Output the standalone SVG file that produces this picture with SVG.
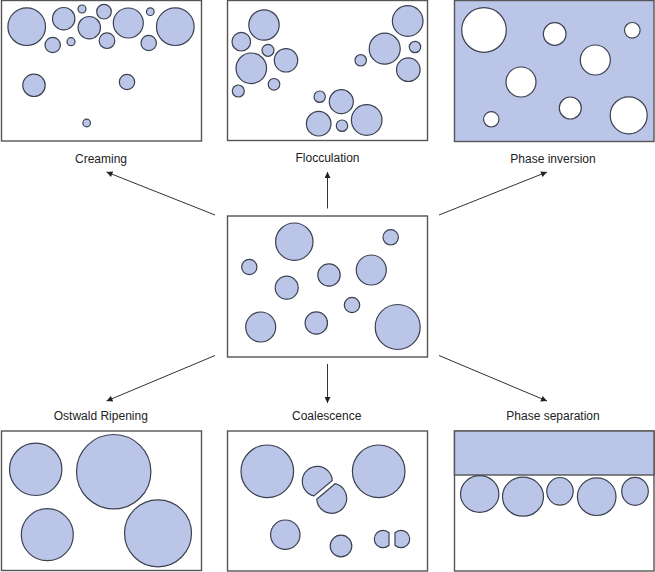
<svg xmlns="http://www.w3.org/2000/svg" width="655" height="572" viewBox="0 0 655 572">
<style>
  .frame { fill: #ffffff; stroke: #555555; stroke-width: 1.4; }
  .frame-blue { fill: #bac5e8; stroke: #555555; stroke-width: 1.4; }
  .drop { fill: #bac5e8; stroke: #3c4150; stroke-width: 1.2; }
  .drop-w { fill: #ffffff; stroke: #3c4150; stroke-width: 1.2; }
  .label { font-family: "Liberation Sans", Arial, sans-serif; font-size: 12px; fill: #222222; text-anchor: middle; }
  .arrow { stroke: #333333; stroke-width: 1; fill: none; marker-end: url(#ah); }
</style>
<defs>
  <marker id="ah" viewBox="0 0 10 10" refX="10" refY="5" markerWidth="9" markerHeight="6" markerUnits="userSpaceOnUse" orient="auto">
    <path d="M0,0 L10,5 L0,10 z" fill="#222222"/>
  </marker>
</defs>
<rect width="655" height="572" fill="#ffffff"/>

<g id="creaming">
  <rect class="frame" x="1.5" y="0.5" width="200" height="140.5"/>
  <circle class="drop" cx="26.7" cy="26.7" r="18.8"/>
  <circle class="drop" cx="63.7" cy="18.7" r="11.2"/>
  <circle class="drop" cx="82" cy="9" r="4"/>
  <circle class="drop" cx="104" cy="11.7" r="7.3"/>
  <circle class="drop" cx="89.3" cy="27.7" r="11.2"/>
  <circle class="drop" cx="128.3" cy="23" r="15"/>
  <circle class="drop" cx="150.3" cy="11.7" r="3.8"/>
  <circle class="drop" cx="175.3" cy="26.7" r="18.8"/>
  <circle class="drop" cx="52.7" cy="45" r="7.7"/>
  <circle class="drop" cx="71" cy="41.7" r="4"/>
  <circle class="drop" cx="107" cy="40.7" r="7.8"/>
  <circle class="drop" cx="148.7" cy="43" r="7.7"/>
  <circle class="drop" cx="34" cy="85.3" r="11.2"/>
  <circle class="drop" cx="127" cy="82" r="7.7"/>
  <circle class="drop" cx="86.7" cy="123" r="3.8"/>
  <text class="label" x="101" y="163">Creaming</text>
</g>

<g id="flocculation">
  <rect class="frame" x="227.5" y="0.5" width="200" height="140"/>
  <circle class="drop" cx="264" cy="25" r="15.2"/>
  <circle class="drop" cx="241.3" cy="41.7" r="9.3"/>
  <circle class="drop" cx="268" cy="50.3" r="6"/>
  <circle class="drop" cx="251.3" cy="68.3" r="15.3"/>
  <circle class="drop" cx="286" cy="60.3" r="11.7"/>
  <circle class="drop" cx="274" cy="84.3" r="5.8"/>
  <circle class="drop" cx="238.3" cy="91" r="6"/>
  <circle class="drop" cx="407.7" cy="21" r="15.3"/>
  <circle class="drop" cx="384.7" cy="48.7" r="15.5"/>
  <circle class="drop" cx="415" cy="47" r="5.7"/>
  <circle class="drop" cx="360.7" cy="60.3" r="5.7"/>
  <circle class="drop" cx="408.3" cy="69.7" r="11.8"/>
  <circle class="drop" cx="319.7" cy="96.7" r="5.7"/>
  <circle class="drop" cx="341.3" cy="101.7" r="12"/>
  <circle class="drop" cx="318.7" cy="123.7" r="12.3"/>
  <circle class="drop" cx="342" cy="125.7" r="5.7"/>
  <circle class="drop" cx="366.7" cy="120" r="15.3"/>
  <text class="label" x="327.5" y="162">Flocculation</text>
</g>

<g id="phase-inversion">
  <rect class="frame-blue" x="454.5" y="0.5" width="199.5" height="141"/>
  <circle class="drop-w" cx="484" cy="30" r="22.3"/>
  <circle class="drop-w" cx="554.7" cy="34" r="11.3"/>
  <circle class="drop-w" cx="632.3" cy="30.3" r="7.8"/>
  <circle class="drop-w" cx="595.3" cy="60" r="15"/>
  <circle class="drop-w" cx="521" cy="82" r="15"/>
  <circle class="drop-w" cx="570.3" cy="108" r="11"/>
  <circle class="drop-w" cx="491.3" cy="119.3" r="7.7"/>
  <circle class="drop-w" cx="628.7" cy="115.3" r="18.5"/>
  <text class="label" x="553" y="163">Phase inversion</text>
</g>

<g id="emulsion">
  <rect class="frame" x="227.5" y="216" width="200" height="141"/>
  <circle class="drop" cx="294.3" cy="241.7" r="18.7"/>
  <circle class="drop" cx="390.7" cy="237.3" r="7.7"/>
  <circle class="drop" cx="249.3" cy="267" r="7.7"/>
  <circle class="drop" cx="329" cy="275" r="11.2"/>
  <circle class="drop" cx="371.3" cy="270" r="15"/>
  <circle class="drop" cx="286.7" cy="287.7" r="11.5"/>
  <circle class="drop" cx="352" cy="305" r="7.7"/>
  <circle class="drop" cx="260.7" cy="327" r="15"/>
  <circle class="drop" cx="316.3" cy="323" r="11.2"/>
  <circle class="drop" cx="397.7" cy="327" r="22.5"/>
</g>

<g id="ostwald-ripening">
  <rect class="frame" x="1.5" y="431" width="200" height="139.5"/>
  <circle class="drop" cx="35.7" cy="469.3" r="26.2"/>
  <circle class="drop" cx="113.7" cy="471.7" r="37.2"/>
  <circle class="drop" cx="47.3" cy="534.7" r="26"/>
  <circle class="drop" cx="158" cy="533.3" r="33.5"/>
  <text class="label" x="100.8" y="420">Ostwald Ripening</text>
</g>

<g id="coalescence">
  <rect class="frame" x="227.5" y="431" width="200" height="140"/>
  <circle class="drop" cx="267.3" cy="471.3" r="26.3"/>
  <circle class="drop" cx="378.7" cy="471.3" r="26.3"/>
  <path class="drop" d="M313.95,495.92 A15,15 0 1 1 332.27,480.42 Z"/>
  <path class="drop" d="M335.05,483.68 A15,15 0 1 1 316.73,499.18 Z"/>
  <circle class="drop" cx="285.3" cy="534.7" r="14.7"/>
  <circle class="drop" cx="341" cy="546" r="10.8"/>
  <path class="drop" d="M389,532.7 A8.7,8.7 0 1 0 389,545.3 Z"/>
  <path class="drop" d="M395,532.7 A8.7,8.7 0 1 1 395,545.3 Z"/>
  <text class="label" x="326.7" y="420">Coalescence</text>
</g>

<g id="phase-separation">
  <rect class="frame" x="454.5" y="431" width="199.5" height="140"/>
  <rect class="frame-blue" x="454.5" y="431" width="199.5" height="44"/>
  <ellipse class="drop" cx="479.7" cy="494" rx="19.2" ry="18.3"/>
  <ellipse class="drop" cx="523" cy="496.7" rx="20.5" ry="19.5"/>
  <ellipse class="drop" cx="560" cy="491.3" rx="13.2" ry="13.8"/>
  <ellipse class="drop" cx="596.7" cy="496.7" rx="19.3" ry="18.8"/>
  <ellipse class="drop" cx="635" cy="491.3" rx="13.3" ry="14"/>
  <text class="label" x="553" y="420">Phase separation</text>
</g>

<g id="connectors">
  <line class="arrow" x1="215" y1="215" x2="106.5" y2="172"/>
  <line class="arrow" x1="327.5" y1="208.5" x2="327.5" y2="172"/>
  <line class="arrow" x1="439" y1="215" x2="547" y2="172"/>
  <line class="arrow" x1="215" y1="355.5" x2="106.5" y2="401"/>
  <line class="arrow" x1="327.5" y1="364" x2="327.5" y2="403"/>
  <line class="arrow" x1="439" y1="355.5" x2="547" y2="401"/>
</g>
</svg>
